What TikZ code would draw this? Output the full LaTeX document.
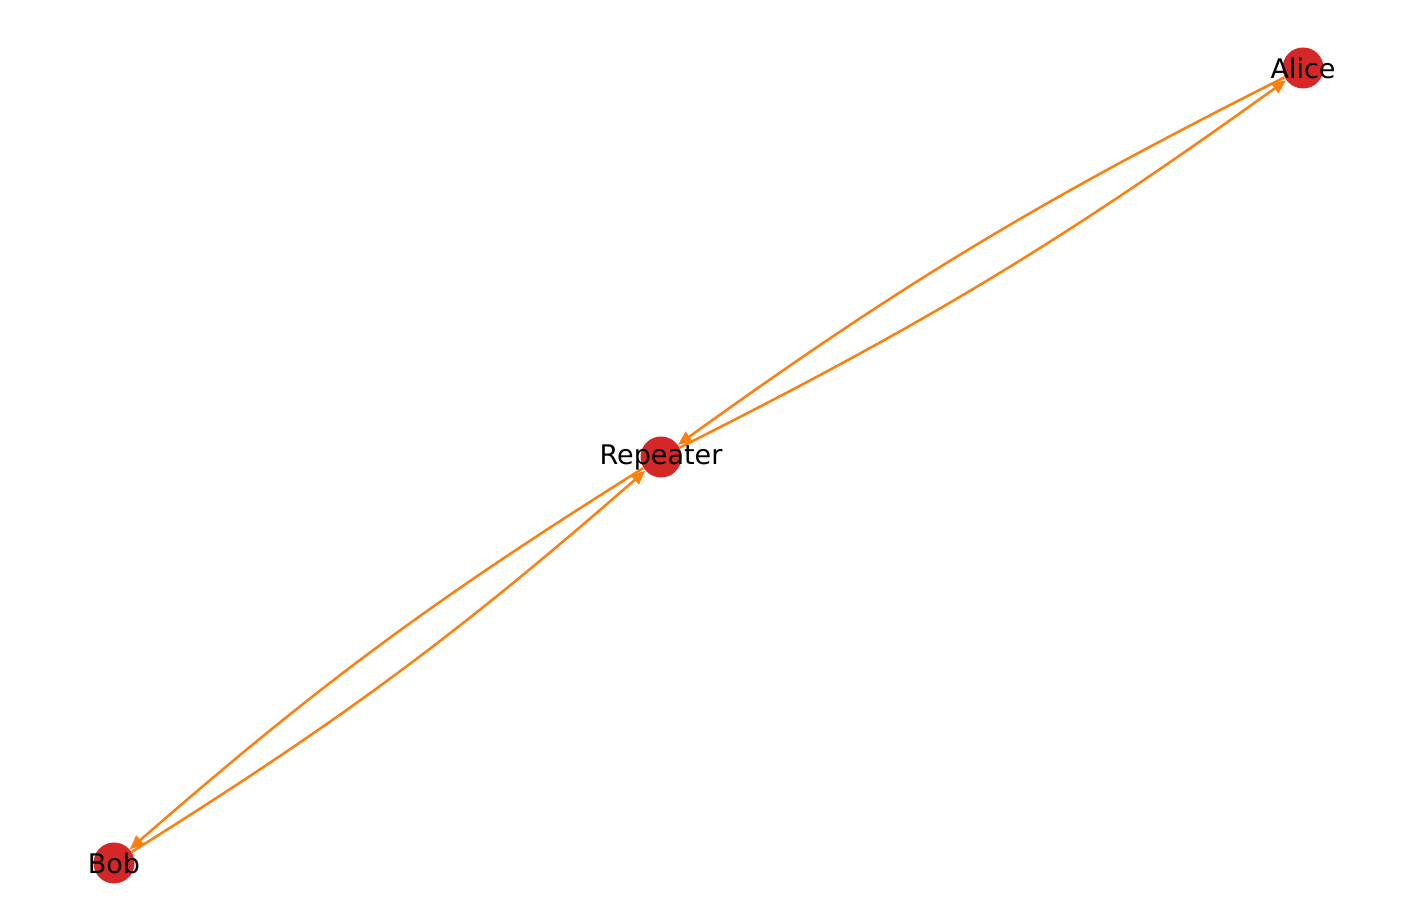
\documentclass[tikz,border=0pt]{standalone}
\usepackage{fontspec}
\setmainfont{DejaVu Sans}
\usetikzlibrary{arrows.meta}
\definecolor{nodered}{HTML}{D62728}
\definecolor{edgeorange}{HTML}{FF7F0E}
\begin{document}
\begin{tikzpicture}[x=0.5pt,y=0.5pt,
  vertex/.style={circle,fill=nodered,draw=none,minimum size=20.5pt,inner sep=0pt},
  lbl/.style={font=\fontsize{13.5pt}{16pt}\selectfont,text=black,inner sep=0pt},
  link/.style={draw=edgeorange,line width=1.25pt,-{Triangle[length=7pt,width=6pt]},bend right=4.5}]
\useasboundingbox (0,0) rectangle (1413,919);
\node[vertex] (alice) at (1303,851) {};
\node[vertex] (rep) at (661,462) {};
\node[vertex] (bob) at (114,56) {};
\draw[link] (alice) to (rep);
\draw[link] (rep) to (alice);
\draw[link] (rep) to (bob);
\draw[link] (bob) to (rep);
\node[lbl] (alicel) at (alice.center) {Alice};
\node[lbl] (repl) at (rep.center) {Repeater};
\node[lbl] (bobl) at (bob.center) {Bob};
\end{tikzpicture}
\end{document}
